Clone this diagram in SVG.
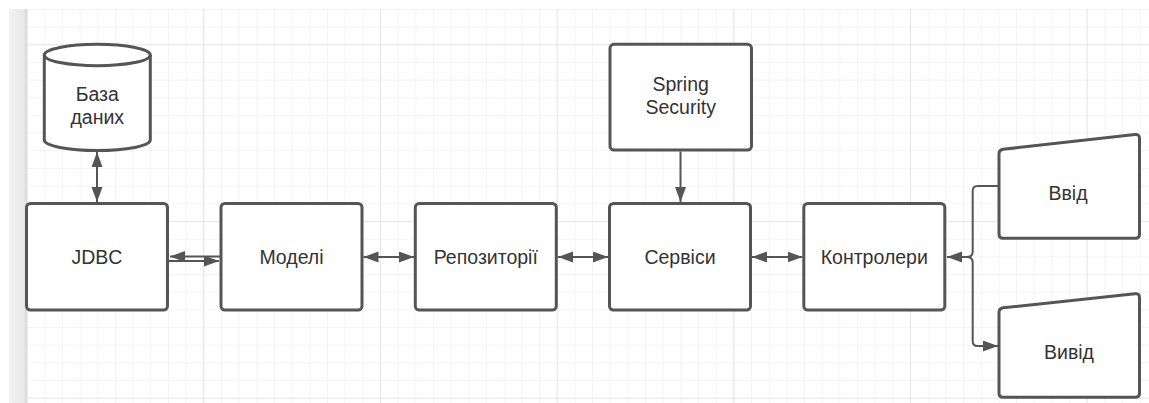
<svg xmlns="http://www.w3.org/2000/svg" width="1149" height="403" viewBox="0 0 1149 403">
<defs>
<pattern id="minor" x="26.67" y="9" width="17.667" height="17.667" patternUnits="userSpaceOnUse">
<path d="M0,0 H17.667 M0,0 V17.667" fill="none" stroke="#e9e9e9" stroke-width="1"/>
</pattern>
<pattern id="major" x="26.67" y="44.33" width="176.67" height="176.67" patternUnits="userSpaceOnUse">
<path d="M0,0 H176.67 M0,0 V176.67" fill="none" stroke="#dadada" stroke-width="1.2"/>
</pattern>
<linearGradient id="bar" x1="0" y1="0" x2="1" y2="0">
<stop offset="0" stop-color="#f2f2f2"/>
<stop offset="0.8" stop-color="#e8e8e8"/>
<stop offset="1" stop-color="#dadada"/>
</linearGradient>
<marker id="ah" markerUnits="userSpaceOnUse" markerWidth="17" markerHeight="13" refX="15" refY="5.5" orient="auto-start-reverse">
<path d="M0,0 L15,5.5 L0,11 z" fill="#555"/>
</marker>
<style>
.box{fill:#fff;stroke:#555;stroke-width:3}
.lbl{font-family:"Liberation Sans",Arial,sans-serif;font-size:19.5px;fill:#333;text-anchor:middle;dominant-baseline:central}
.ln{fill:none;stroke:#555;stroke-width:2}
</style>
</defs>
<rect x="0" y="0" width="1149" height="403" fill="#fff"/>
<rect x="26.67" y="9" width="1122.33" height="394" fill="url(#minor)"/>
<rect x="26.67" y="9" width="1122.33" height="394" fill="url(#major)"/>
<rect x="9" y="9" width="18" height="394" fill="url(#bar)"/>

<g id="db">
<path class="box" d="M44.3,55 V140 A53,10.5 0 0 0 150.3,140 V55 A53,10.7 0 0 0 44.3,55 Z"/>
<path class="box" d="M44.3,55 A53,10.7 0 0 0 150.3,55" fill="none"/>
<text class="lbl" x="97.3" y="94">База</text>
<text class="lbl" x="97.3" y="117">даних</text>
</g>
<g id="jdbc">
<rect class="box" x="26.5" y="203.5" width="141" height="106.5" rx="4"/>
<text class="lbl" x="97" y="256.7">JDBC</text>
</g>
<g id="models">
<rect class="box" x="221" y="203.5" width="141" height="106.5" rx="4"/>
<text class="lbl" x="291.5" y="256.7">Моделі</text>
</g>
<g id="repos">
<rect class="box" x="415.3" y="203.5" width="141" height="106.5" rx="4"/>
<text class="lbl" x="485.8" y="256.7">Репозиторії</text>
</g>
<g id="services">
<rect class="box" x="609.5" y="203.5" width="141" height="106.5" rx="4"/>
<text class="lbl" x="680" y="256.7">Сервіси</text>
</g>
<g id="controllers">
<rect class="box" x="803.8" y="203.5" width="141" height="106.5" rx="4"/>
<text class="lbl" x="874.3" y="256.7">Контролери</text>
</g>
<g id="security">
<rect class="box" x="610" y="44.3" width="141.5" height="105.7" rx="4"/>
<text class="lbl" x="680.7" y="84">Spring</text>
<text class="lbl" x="680.7" y="107">Security</text>
</g>
<g id="input">
<path class="box" d="M999,154 Q999,150 1003,149.3 L1135,134.5 Q1139.5,134 1139.5,138.5 V234 Q1139.5,238.3 1135.5,238.3 H1003 Q999,238.3 999,234 Z"/>
<text class="lbl" x="1068" y="192.7">Ввід</text>
</g>
<g id="output">
<path class="box" d="M999,312.5 Q999,308.5 1003,307.8 L1135,293.7 Q1139.5,293.2 1139.5,297.7 V393 Q1139.5,397.3 1135.5,397.3 H1003 Q999,397.3 999,393 Z"/>
<text class="lbl" x="1069" y="351.7">Вивід</text>
</g>

<g id="connectors">
<path class="ln" d="M97,152 V202" marker-start="url(#ah)" marker-end="url(#ah)"/>
<path class="ln" d="M220,256.5 H170" marker-end="url(#ah)"/>
<path class="ln" d="M168,261 H219" marker-end="url(#ah)"/>
<path class="ln" d="M363.5,257 H414" marker-start="url(#ah)" marker-end="url(#ah)"/>
<path class="ln" d="M558,257 H608" marker-start="url(#ah)" marker-end="url(#ah)"/>
<path class="ln" d="M752,257 H802.5" marker-start="url(#ah)" marker-end="url(#ah)"/>
<path class="ln" d="M680.5,151.5 V202" marker-end="url(#ah)"/>
<path class="ln" d="M998,186 H977.5 Q972.7,186 972.7,191 V251.5 Q972.7,257 967,257 H947" marker-end="url(#ah)"/>
<path class="ln" d="M967,257 Q972.7,257 972.7,262.5 V341 Q972.7,346 977.5,346 H998" marker-end="url(#ah)"/>
</g>
</svg>
